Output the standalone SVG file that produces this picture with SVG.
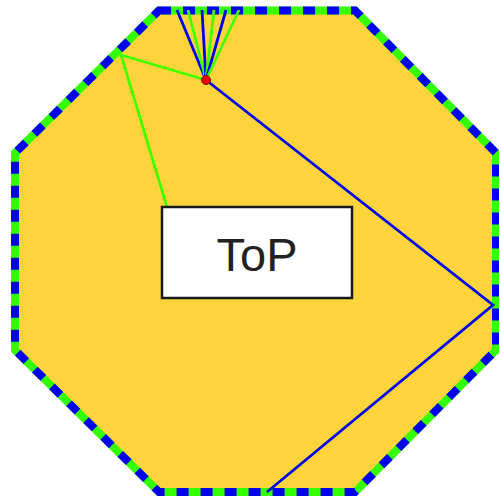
<svg xmlns="http://www.w3.org/2000/svg" width="499" height="499" viewBox="0 0 499 499">
<style>
.oct{fill:#fdd43c;stroke:#33ff00;stroke-width:8}
.octd{fill:none;stroke:#0000ee;stroke-width:8;stroke-dasharray:12 12}
.b{stroke:#0000ee;stroke-width:2.8;fill:none}
.g{stroke:#44ff00;stroke-width:2.8;fill:none}
</style>
<g id="octagon">
<polygon class="oct" points="159,10.5 355,10.5 496,153 496,350 355,492 159,492 15,350 15,153"/>
<polygon class="octd" points="159,10.5 355,10.5 496,153 496,350 355,492 159,492 15,350 15,153"/>
</g>
<g id="connectors">
<line class="b" x1="206" y1="80" x2="177" y2="10"/>
<line class="g" x1="206" y1="80" x2="188" y2="10"/>
<line class="b" x1="206" y1="80" x2="202" y2="10"/>
<line class="g" x1="206" y1="80" x2="214" y2="10"/>
<line class="b" x1="206" y1="80" x2="226" y2="10"/>
<line class="g" x1="206" y1="80" x2="239" y2="10"/>
<polyline class="g" points="206,80 121,55 167,207"/>
<polyline class="b" points="206,80 493,305 267,492"/>
</g>
<g id="dot"><circle cx="206" cy="80" r="4.5" fill="#ee0000" stroke="#880000" stroke-width="1"/></g>
<g id="top">
<rect x="162" y="207" width="190" height="91" fill="#fff" stroke="#1a1a1a" stroke-width="2.5"/>
<text x="257" y="271" text-anchor="middle" font-family="Liberation Sans, Arial, sans-serif" font-size="47" fill="#222">ToP</text>
</g>
</svg>
